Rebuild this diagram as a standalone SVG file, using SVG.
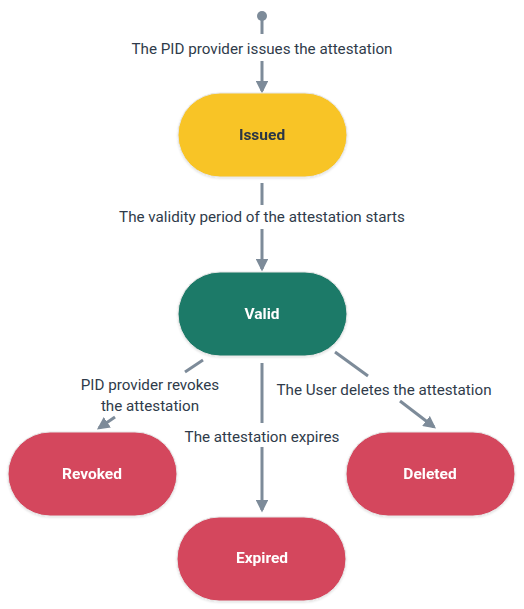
<svg xmlns="http://www.w3.org/2000/svg" width="524" height="609" viewBox="0 0 524 609">
<style>
.bg{fill:#ffffff}
.edge{stroke:#7d8b99;stroke-width:3;fill:none}
.lbl{font-family:Roboto,"Liberation Sans",sans-serif;font-size:15.2px;fill:#2f3b4a;text-anchor:middle}
.node rect{stroke:#e6e6e6;stroke-width:1}
.ntxt{font-family:Roboto,"Liberation Sans",sans-serif;font-size:15.5px;font-weight:bold;text-anchor:middle;dominant-baseline:central}
</style>
<defs>
<marker id="arr" viewBox="0 0 10 10" refX="8" refY="5" markerWidth="4.2" markerHeight="4.2" orient="auto" markerUnits="strokeWidth">
<path d="M0,0 L10,5 L0,10 z" fill="#7d8b99"/>
</marker>
<filter id="sh" x="-10%" y="-10%" width="120%" height="130%">
<feDropShadow dx="0" dy="1" stdDeviation="1" flood-color="#000" flood-opacity="0.12"/>
</filter>
</defs>
<rect class="bg" x="0" y="0" width="524" height="609"/>
<g id="connectors">
<circle cx="262" cy="16" r="5" fill="#7d8b99"/>
<line class="edge" x1="262" y1="16" x2="262" y2="34"/>
<line class="edge" x1="262" y1="61" x2="262" y2="91" marker-end="url(#arr)"/>
<text class="lbl" x="262" y="54">The PID provider issues the attestation</text>
<line class="edge" x1="262" y1="183" x2="262" y2="205"/>
<line class="edge" x1="262" y1="229" x2="262" y2="269" marker-end="url(#arr)"/>
<text class="lbl" x="262" y="222">The validity period of the attestation starts</text>
<line class="edge" x1="203" y1="360" x2="185" y2="372"/>
<line class="edge" x1="115" y1="417" x2="99" y2="428" marker-end="url(#arr)"/>
<text class="lbl" x="150" y="390">PID provider revokes</text>
<text class="lbl" x="150" y="411">the attestation</text>
<line class="edge" x1="262" y1="363" x2="262" y2="423"/>
<line class="edge" x1="262" y1="447" x2="262" y2="510" marker-end="url(#arr)"/>
<text class="lbl" x="262" y="442">The attestation expires</text>
<line class="edge" x1="335" y1="352" x2="368" y2="376"/>
<line class="edge" x1="400" y1="401" x2="434" y2="427" marker-end="url(#arr)"/>
<text class="lbl" x="384" y="395">The User deletes the attestation</text>
</g>
<g id="issued" class="node" filter="url(#sh)">
<rect x="178" y="93" width="169" height="84" rx="42" fill="#f8c426"/>
<text class="ntxt" x="262" y="135" fill="#2b3645">Issued</text>
</g>
<g id="valid" class="node" filter="url(#sh)">
<rect x="178" y="272" width="169" height="84" rx="42" fill="#1f7a67"/>
<text class="ntxt" x="262" y="314" fill="#ffffff">Valid</text>
</g>
<g id="revoked" class="node" filter="url(#sh)">
<rect x="8" y="432" width="169" height="84" rx="42" fill="#d4475d"/>
<text class="ntxt" x="92" y="474" fill="#ffffff">Revoked</text>
</g>
<g id="deleted" class="node" filter="url(#sh)">
<rect x="346" y="432" width="169" height="84" rx="42" fill="#d4475d"/>
<text class="ntxt" x="430" y="474" fill="#ffffff">Deleted</text>
</g>
<g id="expired" class="node" filter="url(#sh)">
<rect x="177" y="517" width="169" height="84" rx="42" fill="#d4475d"/>
<text class="ntxt" x="262" y="558" fill="#ffffff">Expired</text>
</g>
</svg>
